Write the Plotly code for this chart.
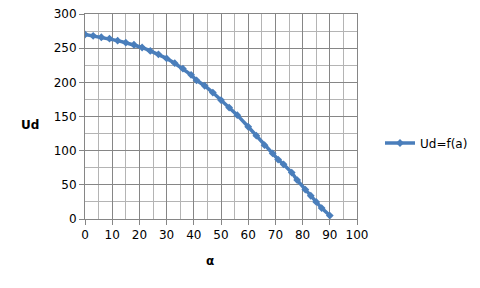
import plotly.graph_objects as go

alpha = [0, 3, 6, 9, 12, 15, 18, 21, 24, 27, 30, 33, 36, 39, 41, 44, 47, 50, 53, 56,
         60, 63, 66, 69, 71, 73, 76, 78, 81, 83, 85, 87, 90]
ud = [270, 268, 266, 264, 261, 258, 255, 251, 246, 241, 235, 228, 220, 211, 203, 195,
      185, 174, 163, 152, 135, 122, 108, 96, 87, 80, 68, 57, 43, 34, 25, 16, 5]

series_name = "Ud=f(a)"
x_title = "α"
y_title = "Ud"

blue = "#4a7ebb"
major = "#868686"
minor = "#b4b4b4"
font = "DejaVu Sans"

L, R, T, B = 85, 123, 14, 69
pw, ph = 480 - L - R, 288 - T - B

def px_x(p):
    return (p - L) / pw

def px_y(p):
    return (288 - B - p) / ph

fig = go.Figure()
fig.add_trace(go.Scatter(
    x=alpha, y=ud, mode="lines+markers", name=series_name,
    line=dict(color=blue, width=3.5),
    marker=dict(symbol="diamond", size=6, color=blue),
))

fig.update_layout(
    width=480, height=288,
    margin=dict(l=L, r=R, t=T, b=B, autoexpand=False),
    paper_bgcolor="white", plot_bgcolor="white",
    font=dict(family=font, size=12, color="#000000"),
    showlegend=True,
    legend=dict(x=px_x(380), y=px_y(143), xanchor="left", yanchor="middle",
                font=dict(family=font, size=12), bgcolor="rgba(0,0,0,0)",
                itemwidth=30),
    annotations=[
        dict(text="<b>" + y_title + "</b>", x=px_x(30), y=px_y(125),
             xref="paper", yref="paper", xanchor="center", yanchor="middle",
             showarrow=False, font=dict(family=font, size=12)),
        dict(text="<b>" + x_title + "</b>", x=px_x(210), y=px_y(261),
             xref="paper", yref="paper", xanchor="center", yanchor="middle",
             showarrow=False, font=dict(family=font, size=12)),
    ],
)

fig.update_xaxes(
    range=[0, 100], tick0=0, dtick=10, showgrid=True, gridcolor=major, gridwidth=1,
    showline=True, linecolor=major, linewidth=1, mirror=True, automargin=False,
    ticks="outside", ticklen=5, tickcolor=major, zeroline=False,
    minor=dict(dtick=5, showgrid=True, gridcolor=minor, gridwidth=1),
    tickfont=dict(family=font, size=12),
)
fig.update_yaxes(
    range=[0, 300], tick0=0, dtick=50, showgrid=True, gridcolor=major, gridwidth=1,
    showline=True, linecolor=major, linewidth=1, mirror=True, automargin=False,
    ticks="outside", ticklen=5, tickcolor=major, zeroline=False,
    minor=dict(dtick=25, showgrid=True, gridcolor=minor, gridwidth=1),
    tickfont=dict(family=font, size=12),
)

fig.write_html("out.html")
